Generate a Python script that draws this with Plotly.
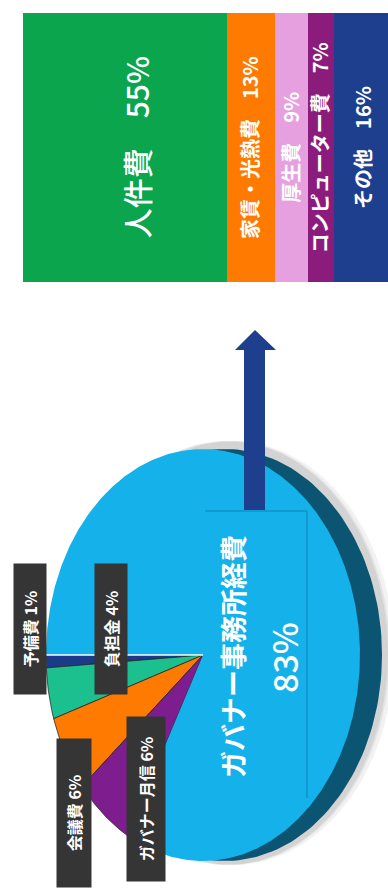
import numpy as np
import plotly.graph_objects as go

# ---- data ----
bar_names = ["人件費", "家賃・光熱費", "厚生費", "コンピューター費", "その他"]
bar_values = [55, 13, 9, 7, 16]
bar_colors = ["#0BA54E", "#FF7A00", "#E6A0E0", "#8C1C7C", "#1D3F8E"]

pie_names = ["予備費", "負担金", "会議費", "ガバナー月信", "ガバナー事務所経費"]
pie_values = [1, 4, 6, 6, 83]
pie_colors = ["#1B3A8A", "#1CC08E", "#FF7A00", "#7E1E8E", "#14B1EA"]

FONT = "Noto Sans CJK JP"
W, H = 388, 888

fig = go.Figure()

cx, cy, a, b = 203, 655, 157, 206
rim_dx = 22
start = 180.0


def ellipse(cx_, cy_, a_, b_, n=200):
    t = np.linspace(0, 2 * np.pi, n)
    return cx_ + a_ * np.cos(t), cy_ + b_ * np.sin(t)

# soft shadow
for k, op in [(30, 0.05), (26, 0.06), (24, 0.07)]:
    sx, sy = ellipse(cx + k, cy - 2, a + 4, b + 6)
    fig.add_trace(go.Scatter(x=sx, y=sy, mode="lines", fill="toself",
                             line=dict(width=0), fillcolor=f"rgba(0,0,0,{op})",
                             hoverinfo="skip", showlegend=False))
# rim (side of the 3D pie)
rx, ry = ellipse(cx + rim_dx, cy, a, b)
fig.add_trace(go.Scatter(x=rx, y=ry, mode="lines", fill="toself",
                         line=dict(width=0), fillcolor="#0B5472",
                         hoverinfo="skip", showlegend=False))

# slices from values
total = sum(pie_values)
ang = start
for name, v, col in zip(pie_names, pie_values, pie_colors):
    sweep = 360.0 * v / total
    t = np.radians(np.linspace(ang, ang - sweep, max(8, int(sweep * 2))))
    xs = np.concatenate([[cx], cx + a * np.cos(t), [cx]])
    ys = np.concatenate([[cy], cy + b * np.sin(t), [cy]])
    big = v == max(pie_values)
    fig.add_trace(go.Scatter(x=xs, y=ys, mode="lines", fill="toself",
                             line=dict(width=0 if big else 0.8, color="#2a2a2a"),
                             fillcolor=col, hoverinfo="skip", showlegend=False, name=name))
    ang -= sweep

t0 = np.radians(start)
fig.add_trace(go.Scatter(x=[cx, cx + a * np.cos(t0)], y=[cy, cy + b * np.sin(t0)],
                         mode="lines", line=dict(color="white", width=1.5),
                         hoverinfo="skip", showlegend=False))

# stacked bar
for name, v, col in zip(bar_names, bar_values, bar_colors):
    fig.add_trace(go.Bar(x=[v], y=[0], orientation="h", marker=dict(color=col, line=dict(width=0)),
                         width=1, xaxis="x2", yaxis="y2", showlegend=False, name=name,
                         hoverinfo="skip"))

annotations = []
cum = 0
for i, (name, v) in enumerate(zip(bar_names, bar_values)):
    mid = cum + v / 2
    cum += v
    if i == 0:
        txt, size, shift, wt = f"{name}　{v}%", 30, 11, 500
    else:
        txt, size, shift, wt = f"{name}　{v}%", 20, -1, "bold"
    annotations.append(dict(x=mid, y=0, xref="x2", yref="y2", text=txt, textangle=-90,
                            showarrow=False, xshift=shift,
                            font=dict(family=FONT, size=size, color="white", weight=wt)))

label_pos = {
    "予備費": (30, 629, 128, 30),
    "負担金": (111, 629, 128, 30),
    "会議費": (74, 813, 146, 32),
    "ガバナー月信": (146, 799, 162, 36),
}
for name, v in zip(pie_names, pie_values):
    if name in label_pos:
        x, y, w, h = label_pos[name]
        annotations.append(dict(x=x, y=y, xref="x", yref="y", text=f"{name} {v}%",
                                textangle=-90, showarrow=False, bgcolor="#353535",
                                width=w, height=h,
                                font=dict(family=FONT, size=16, color="white", weight="bold")))
big_name = pie_names[-1]
big_val = pie_values[-1]
annotations.append(dict(x=232, y=657, xref="x", yref="y", text=big_name, textangle=-90,
                        showarrow=False, font=dict(family=FONT, size=27, color="white", weight="bold")))
annotations.append(dict(x=283, y=658, xref="x", yref="y", text=f"{big_val}%", textangle=-90,
                        showarrow=False, font=dict(family=FONT, size=34, color="white", weight=500)))

shapes = [
    dict(type="line", x0=205, x1=307, y0=511, y1=511, xref="x", yref="y",
         line=dict(color="#1390C8", width=1.5)),
    dict(type="line", x0=307, x1=307, y0=511, y1=798, xref="x", yref="y",
         line=dict(color="#1390C8", width=1.5)),
    dict(type="path", xref="x", yref="y",
         path="M 244 510 L 265 510 L 265 350 L 276 350 L 255 330 L 235 350 L 244 350 Z",
         fillcolor="#1D3F8E", line=dict(width=0)),
]

fig.update_layout(
    width=W, height=H, margin=dict(l=0, r=0, t=0, b=0),
    paper_bgcolor="white", plot_bgcolor="rgba(0,0,0,0)",
    barmode="stack", bargap=0,
    xaxis=dict(range=[0, W], domain=[0, 1], visible=False, fixedrange=True),
    yaxis=dict(range=[H, 0], domain=[0, 1], visible=False, fixedrange=True),
    xaxis2=dict(range=[0, 100 * (W - 23) / 370], domain=[23 / W, 1], visible=False,
                anchor="y2", fixedrange=True),
    yaxis2=dict(range=[-0.5, 0.5], domain=[1 - 282 / H, 1 - 13 / H], visible=False,
                anchor="x2", fixedrange=True),
    annotations=annotations, shapes=shapes, font=dict(family=FONT),
)

fig.write_html("out.html")
